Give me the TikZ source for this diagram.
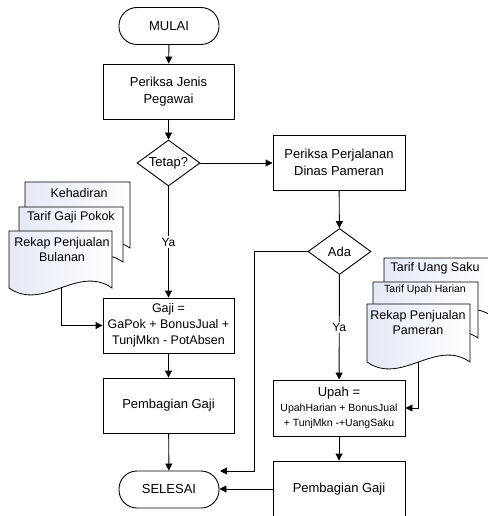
\documentclass[tikz,border=0pt]{standalone}
\usepackage{fontspec}
\setmainfont{Liberation Sans}
\usetikzlibrary{arrows.meta,shapes.geometric}
\definecolor{docblue}{RGB}{228,233,246}
\begin{document}
\begin{tikzpicture}[x=1pt,y=-1pt,line width=0.9pt,
  box/.style={draw, line width=0.9pt, minimum width=131pt, minimum height=55pt, inner sep=1pt, align=center, font=\fontsize{13}{17.5}\selectfont},
  term/.style={draw, rounded corners=18pt, minimum width=100pt, minimum height=37pt, inner sep=1pt, font=\fontsize{13}{15}\selectfont},
  dec/.style={draw, diamond, minimum width=63pt, minimum height=46pt, inner sep=0pt},
  dectext/.style={font=\fontsize{13}{15}\selectfont, inner sep=0pt},
  arr/.style={-{Triangle[length=7pt,width=7pt]}},
  doctext/.style={align=center, font=\fontsize{12.5}{15}\selectfont, inner sep=0pt},
  docfill/.style={draw, line width=0.8pt, left color=docblue, right color=white},
  lbl/.style={fill=white, font=\fontsize{12}{14}\selectfont, inner sep=1.5pt}
]
\useasboundingbox (0,0) rectangle (487,516);

% ---- main flow nodes
\node[term] (mulai) at (169,26) {MULAI};
\node[box] (jenis) at (168.5,91.5) {Periksa Jenis\\Pegawai};
\node[dec] (tetap) at (168.5,163) {};
\node[dectext] (tetaptxt) at (tetap.center) {Tetap?};
\node[box, minimum width=132pt] (dinas) at (339,162.5) {Periksa Perjalanan\\Dinas Pameran};
\node[dec] (ada) at (339.5,251.5) {};
\node[dectext] (adatxt) at (ada.center) {Ada};
\node[box, font=\fontsize{12.5}{16}\selectfont] (gaji) at (168.5,325.5) {Gaji =\\GaPok + BonusJual +\\TunjMkn - PotAbsen};
\node[box] (bagi1) at (168.5,405.5) {Pembagian Gaji};
\node[term] (selesai) at (169,489.5) {SELESAI};
\node[box, minimum width=132pt, minimum height=56pt, font=\fontsize{10.5}{15}\selectfont] (upah) at (339,408) {{\fontsize{13}{15}\selectfont Upah =}\\UpahHarian + BonusJual\\+ TunjMkn -+UangSaku};
\node[box, minimum width=132pt, minimum height=56pt] (bagi2) at (339,489) {Pembagian Gaji};

% ---- left document stack
\draw[docfill] (25,182) -- (130,182) -- (130,248) .. controls +(-35,-24) and +(35,24) .. (25,248) -- cycle;
\draw[docfill] (19,207) -- (123,207) -- (123,262) .. controls +(-34.7,-24) and +(34.7,24) .. (19,262) -- cycle;
\draw[docfill] (9,231) -- (112,231) -- (112,288) .. controls +(-34.3,-24) and +(34.3,24) .. (9,288) -- cycle;
\node[doctext] (keh) at (79,193) {Kehadiran};
\node[doctext] (tgp) at (71,217) {Tarif Gaji Pokok};
\node[doctext] (rpb) at (62,249.5) {Rekap Penjualan\\Bulanan};

% ---- right document stack
\draw[docfill] (384,258) -- (492,258) -- (492,316) .. controls +(-36,-24) and +(36,24) .. (384,316) -- cycle;
\draw[docfill] (373,282) -- (478,282) -- (478,338) .. controls +(-35,-24) and +(35,24) .. (373,338) -- cycle;
\draw[docfill] (367,304) -- (470,304) -- (470,362) .. controls +(-34.3,-24) and +(34.3,24) .. (367,362) -- cycle;
\node[doctext] (tus) at (435,268) {Tarif Uang Saku};
\node[doctext, font=\fontsize{10.5}{13}\selectfont] (tuh) at (425,290) {Tarif Upah Harian};
\node[doctext] (rpp) at (418,322.5) {Rekap Penjualan\\Pameran};

% ---- connectors
\draw[arr] (mulai) -- (jenis);
\draw[arr] (jenis) -- (tetap);
\draw[arr] (tetap.east) -- (dinas.west |- tetap.east);
\draw[arr] (tetap) -- node[lbl] {Ya} (gaji);
\draw[arr] (dinas) -- (ada);
\draw[arr] (ada) -- node[lbl] {Ya} (upah);
\draw[arr] (gaji) -- (bagi1);
\draw[arr] (bagi1) -- (selesai);
\draw[arr] (upah) -- (bagi2);
\draw[arr] (bagi2.west) -- (selesai.east |- bagi2.west);
\coordinate (adacorner) at (254,471);
\coordinate (adaend) at (220,471);
\draw[arr] (ada.west) -| (adacorner) -- (adaend);
\coordinate (rpbout) at (61,288);
\draw[arr] (rpbout) |- (gaji.west);
\coordinate (rppout) at (418,362);
\draw[arr] (rppout) |- (upah.east);
\end{tikzpicture}
\end{document}
